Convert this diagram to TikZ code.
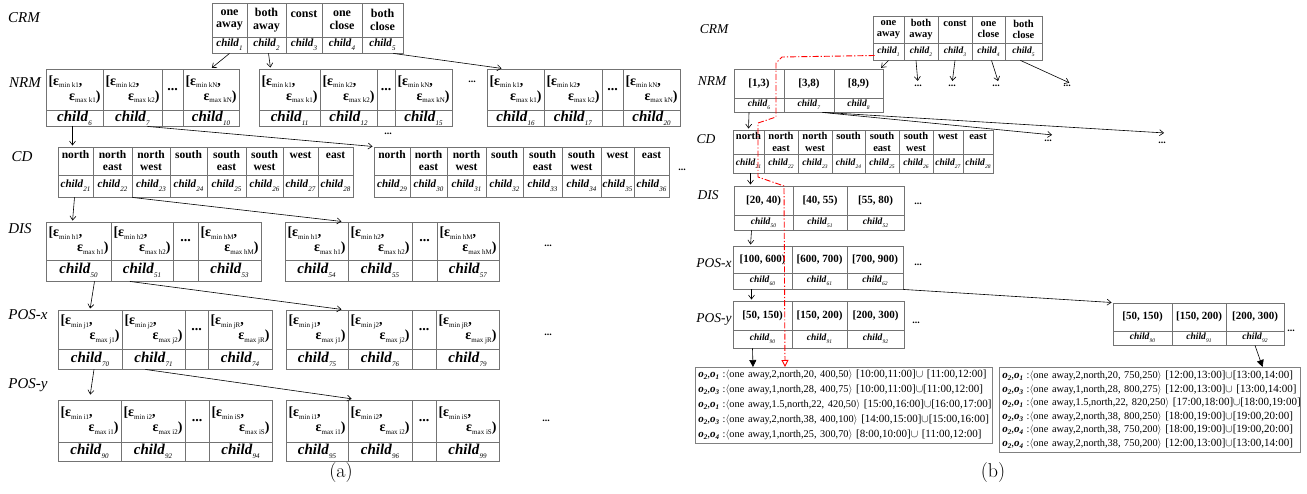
\documentclass[tikz,border=0pt]{standalone}
\usepackage{fontspec}
\newfontfamily\tnr{Liberation Serif}
\usetikzlibrary{arrows.meta}

% small lowered text for indices
\newcommand{\sub}[2][-2.5pt]{\raisebox{#1}{\fontsize{7}{7}\selectfont #2}}
\newcommand{\ch}[1]{\textbf{\textit{child}}\sub[-4pt]{\textit{#1}}}
\newcommand{\chs}[1]{\textbf{\textit{child}}\sub[-3pt]{\fontsize{5.5}{6}\selectfont\textit{#1}}}
\newcommand{\dd}{...}
\newcommand{\ee}[2]{\makebox[\cw pt][l]{[\textbf{ε}\sub{\mdseries #1},}\\
  \makebox[\cw pt][r]{\textbf{ε}\sub{\mdseries #2})}}
\newcommand{\oo}[2]{\textbf{\textit{o}}\sub[-2pt]{\textbf{\textit{#1}}},%
  \textbf{\textit{o}}\sub[-2pt]{\textbf{\textit{#2}}}}
\newcommand{\rl}[4]{\mbox{\oo{#1}{#2} {\fontsize{10.3}{10}\selectfont:$\langle$#3$\rangle$} #4}}
% fonts
\newcommand{\fwa}{\tnr\bfseries\fontsize{12}{12.5}\selectfont}
\newcommand{\fwc}{\tnr\bfseries\fontsize{11.5}{12}\selectfont}
\newcommand{\fea}{\tnr\bfseries\fontsize{14}{15}\selectfont}
\newcommand{\fca}{\tnr\fontsize{15}{15}\selectfont}
\newcommand{\fcs}{\tnr\fontsize{11}{11}\selectfont}
\newcommand{\fwb}{\tnr\bfseries\fontsize{10.5}{11.5}\selectfont}
\newcommand{\fhb}{\tnr\bfseries\fontsize{11}{11}\selectfont}
\newcommand{\fcb}{\tnr\fontsize{9.5}{9.5}\selectfont}

% table: name, top, middle, bottom, header font, child font, cells
\newcommand{\tabl}[7]{%
  \foreach \xl/\xr/\hd/\cd [count=\nc] in {#7}{%
    \pgfmathsetmacro{\cw}{\xr-\xl-5}%
    \node[cell, font=#5, minimum width=(\xr-\xl)*1pt, minimum height=(#3-#2)*1pt]
      (#1h\nc) at ({(\xl+\xr)/2},{(#2+#3)/2}) {\hd};
    \node[cell, font=#6, minimum width=(\xr-\xl)*1pt, minimum height=(#4-#3)*1pt]
      (#1c\nc) at ({(\xl+\xr)/2},{(#3+#4)/2}) {\cd};
  }}

\begin{document}
\begin{tikzpicture}[x=1pt,y=-1pt,
  cell/.style={draw=black!55,line width=0.9pt,inner sep=0pt,align=center},
  arr/.style={-{Straight Barb[length=4pt,width=6pt]},line width=0.6pt,shorten >=1pt},
  tri/.style={-{Triangle[length=7pt,width=7pt]},line width=0.6pt},
  redp/.style={red,line width=0.9pt,dash pattern=on 6pt off 2pt on 1.2pt off 2pt,
    -{Triangle[open,length=7pt,width=7pt]}},
  lbl/.style={font=\tnr\itshape\fontsize{15}{15}\selectfont},
  lblb/.style={font=\tnr\itshape\fontsize{13.5}{13.5}\selectfont},
  elide/.style={font=\tnr\bfseries\fontsize{10}{10}\selectfont,inner sep=1pt},
  res/.style={draw=black!50,line width=0.6pt,align=left,inner xsep=3pt,inner ysep=2pt,
    anchor=north west,font=\tnr\fontsize{11}{15}\selectfont}]
\useasboundingbox (0,0) rectangle (1307,494);

% ---------- (a) ----------
\node[lbl] (lcrma) at (24,18) {CRM};
\node[lbl] (lnrma) at (25,83) {NRM};
\node[lbl] (lcda) at (22,157) {CD};
\node[lbl] (ldisa) at (20,229) {DIS};
\node[lbl] (lpxa) at (28,315) {POS-x};
\node[lbl] (lpya) at (28,385) {POS-y};

\tabl{crma}{3}{37}{53}{\fwa}{\fcs}{212/247/{one\\away}/{\ch{1}},247/286/{both\\away}/{\ch{2}},
  286/322/{const\\\mbox{}}/{\ch{3}},322/362/{one\\close}/{\ch{4}},362/403/{both\\close}/{\ch{5}}}

\tabl{nrma1}{69}{110}{126}{\fea}{\fca}{46/103/{\ee{min k1}{max k1}}/{\ch{6}},
  103/162/{\ee{min k2}{max k2}}/{\ch{7}},162/183/{\dd}/{},183/239/{\ee{min kN}{max kN}}/{\ch{10}}}
\tabl{nrma2}{69}{110}{126}{\fea}{\fca}{259/320/{\ee{min k1}{max k1}}/{\ch{11}},
  320/377/{\ee{min k2}{max k2}}/{\ch{12}},377/395/{\dd}/{},395/452/{\ee{min kN}{max kN}}/{\ch{15}}}
\tabl{nrma3}{69}{110}{126}{\fea}{\fca}{487/544/{\ee{min k1}{max k1}}/{\ch{16}},
  544/602/{\ee{min k2}{max k2}}/{\ch{17}},602/623/{\dd}/{},623/680/{\ee{min kN}{max kN}}/{\ch{20}}}

\tabl{cda1}{147}{175}{197}{\fwc}{\fcs}{58/93/{north\\\mbox{}}/{\ch{21}},93/132/{north\\east}/{\ch{22}},
  132/170/{north\\west}/{\ch{23}},170/207/{south\\\mbox{}}/{\ch{24}},207/246/{south\\east}/{\ch{25}},
  246/283/{south\\west}/{\ch{26}},283/318/{west\\\mbox{}}/{\ch{27}},318/353/{east\\\mbox{}}/{\ch{28}}}
\tabl{cda2}{147}{175}{197}{\fwc}{\fcs}{374/410/{north\\\mbox{}}/{\ch{29}},410/447/{north\\east}/{\ch{30}},
  447/486/{north\\west}/{\ch{31}},486/523/{south\\\mbox{}}/{\ch{32}},523/562/{south\\east}/{\ch{33}},
  562/601/{south\\west}/{\ch{34}},601/634/{west\\\mbox{}}/{\ch{35}},634/669/{east\\\mbox{}}/{\ch{36}}}

\tabl{disa1}{222}{260}{281}{\fea}{\fca}{46/111/{\ee{min h1}{max h1}}/{\ch{50}},
  111/173/{\ee{min h2}{max h2}}/{\ch{51}},173/198/{\dd}/{},198/261/{\ee{min hM}{max hM}}/{\ch{53}}}
\tabl{disa2}{222}{260}{281}{\fea}{\fca}{285/348/{\ee{min h1}{max h1}}/{\ch{54}},
  348/412/{\ee{min h2}{max h2}}/{\ch{55}},412/437/{\dd}/{},437/499/{\ee{min hM}{max hM}}/{\ch{57}}}

\tabl{pxa1}{310}{349}{369}{\fea}{\fca}{58/122/{\ee{min j1}{max j1}}/{\ch{70}},
  122/185/{\ee{min j2}{max j2}}/{\ch{71}},185/208/{\dd}/{},208/272/{\ee{min jR}{max jR}}/{\ch{74}}}
\tabl{pxa2}{310}{349}{369}{\fea}{\fca}{286/348/{\ee{min j1}{max j1}}/{\ch{75}},
  348/412/{\ee{min j2}{max j2}}/{\ch{76}},412/436/{\dd}/{},436/499/{\ee{min jR}{max jR}}/{\ch{79}}}

\tabl{pya1}{400}{442}{461}{\fea}{\fca}{58/121/{\ee{min i1}{max i1}}/{\ch{90}},
  121/185/{\ee{min i2}{max i2}}/{\ch{92}},185/209/{\dd}/{},209/272/{\ee{min iS}{max iS}}/{\ch{94}}}
\tabl{pya2}{400}{442}{461}{\fea}{\fca}{286/348/{\ee{min i1}{max i1}}/{\ch{95}},
  348/412/{\ee{min i2}{max i2}}/{\ch{96}},412/436/{\dd}/{},436/499/{\ee{min iS}{max iS}}/{\ch{99}}}

\node[elide] (ea1) at (472,82) {\dd};
\node[elide] (ea2) at (388,134) {\dd};
\node[elide] (ea3) at (682,170) {\dd};
\node[elide] (ea4) at (548,246) {\dd};
\node[elide] (ea5) at (548,335) {\dd};
\node[elide] (ea6) at (546,421) {\dd};

\draw[arr] (crmac1.south) -- (nrma1h4.north);
\draw[arr] ([xshift=2pt]crmac2.south) -- ([xshift=12pt]nrma2h1.north west);
\draw[arr] ([xshift=-10pt]crmac5.south east) -- ([xshift=16pt]nrma3h1.north west);
\draw[arr] ([xshift=-2pt]nrma1c1.south) -- ([xshift=-3pt]cda1h1.north);
\draw[arr] ([xshift=15pt]nrma1c2.south) -- (cda2h1.north west);
\draw[arr] ([xshift=-1pt]cda1c1.south) -- ([xshift=-6pt]disa1h1.north);
\draw[arr] (cda1c2.south east) -- ([xshift=-6pt]disa2h1.north east);
\draw[arr] ([xshift=16pt]disa1c1.south) -- (pxa1h1.north);
\draw[arr] ([xshift=-12pt]disa1c2.south) -- ([xshift=-6pt]pxa2h1.north east);
\draw[arr,shorten >=5pt] ([xshift=4pt]pxa1c1.south) -- (pya1h1.north);
\draw[arr,shorten >=5pt] ([xshift=-8pt]pxa1c2.south) -- ([xshift=9pt]pya2h2.north west);

\node (capa) at (341,473) {\fontsize{20}{20}\selectfont(a)};

% ---------- (b) ----------
\node[lblb] (lcrmb) at (714,29) {CRM};
\node[lblb] (lnrmb) at (712,81) {NRM};
\node[lblb] (lcdb) at (706,139) {CD};
\node[lblb] (ldisb) at (708,195) {DIS};
\node[lblb] (lpxb) at (714,263) {POS-x};
\node[lblb] (lpyb) at (714,319) {POS-y};

\tabl{crmb}{16}{43}{60}{\fwb}{\fcb}{873/904/{one\\away}/{\chs{1}},904/938/{both\\away}/{\chs{2}},
  938/972/{const\\\mbox{}}/{\chs{3}},972/1005/{one\\close}/{\chs{4}},1005/1042/{both\\close}/{\chs{5}}}
\tabl{nrmb}{69}{98}{112}{\fhb}{\fcb}{734/784/{[1,3)}/{\chs{6}},784/834/{[3,8)}/{\chs{7}},
  834/883/{[8,9)}/{\chs{8}}}
\tabl{cdb}{130}{154}{173}{\fwb}{\fcb}{733/764/{north\\\mbox{}}/{\chs{21}},764/798/{north\\east}/{\chs{22}},
  798/832/{north\\west}/{\chs{23}},832/865/{south\\\mbox{}}/{\chs{24}},865/899/{south\\east}/{\chs{25}},
  899/933/{south\\west}/{\chs{26}},933/963/{west\\\mbox{}}/{\chs{27}},963/993/{east\\\mbox{}}/{\chs{28}}}
\tabl{disb}{186}{215}{230}{\fhb}{\fcb}{734/793/{[20, 40)}/{\chs{50}},793/847/{[40, 55)}/{\chs{51}},
  847/904/{[55, 80)}/{\chs{52}}}
\tabl{pxb}{246}{273}{289}{\fhb}{\fcb}{733/792/{[100, 600)}/{\chs{60}},792/847/{[600, 700)}/{\chs{61}},
  847/903/{[700, 900)}/{\chs{62}}}
\tabl{pyb}{301}{330}{348}{\fhb}{\fcb}{733/792/{[50, 150)}/{\chs{90}},792/847/{[150, 200)}/{\chs{91}},
  847/904/{[200, 300)}/{\chs{92}}}
\tabl{pyc}{303}{331}{345}{\fhb}{\fcb}{1113/1172/{[50, 150)}/{\chs{90}},1172/1226/{[150, 200)}/{\chs{91}},
  1226/1284/{[200, 300)}/{\chs{92}}}

\node[elide] (eb1) at (918,86) {\dd};
\node[elide] (eb2) at (952,86) {\dd};
\node[elide] (eb3) at (996,86) {\dd};
\node[elide] (eb4) at (1067,86) {\dd};
\node[elide] (eb5) at (1048,141) {\dd};
\node[elide] (eb6) at (1162,143) {\dd};
\node[elide] (eb7) at (918,204) {\dd};
\node[elide] (eb8) at (918,265) {\dd};
\node[elide] (eb9) at (916,323) {\dd};
\node[elide] (eb10) at (1291,331) {\dd};

\draw[arr] (crmbc1.south) -- ([xshift=-3pt]nrmbh3.north east);
\draw[arr,shorten >=3pt] ([xshift=-5pt]crmbc2.south) -- (eb1.north);
\draw[arr,shorten >=3pt] (crmbc3.south) -- (eb2.north);
\draw[arr,shorten >=3pt] ([xshift=3pt]crmbc4.south) -- ([xshift=3pt]eb3.north);
\draw[arr,shorten >=3pt] ([xshift=-3pt]crmbc5.south) -- ([xshift=5pt]eb4.north);
\draw[arr] ([xshift=-10pt]nrmbc1.south) -- (cdbh1.north);
\draw[arr] ([xshift=-12pt]nrmbc2.south east) -- ([xshift=5pt,yshift=4pt]eb5.north);
\draw[arr] ([xshift=-10pt]nrmbc2.south east) -- ([xshift=3pt,yshift=8pt]eb6.north);
\draw[arr] ([xshift=2pt]cdbc1.south) -- ([xshift=-13pt]disbh1.north);
\draw[arr] ([xshift=-12pt]disbc1.south) -- ([xshift=-12pt]pxbh1.north);
\draw[arr] ([xshift=-11pt]pxbc1.south) -- ([xshift=-11pt]pybh1.north);
\draw[arr] (pxbc3.south east) -- (pych1.north west);

\node[res,text width=291pt,minimum height=76pt] (resa) at (695,367) {%
\rl{2}{1}{one away,2,north,20, 400,50}{[10:00,11:00]$\cup$ [11:00,12:00]}\\
\rl{2}{3}{one away,1,north,28, 400,75}{[10:00,11:00]$\cup$[11:00,12:00]}\\
\rl{2}{1}{one away,1.5,north,22, 420,50}{[15:00,16:00]$\cup$[16:00,17:00]}\\
\rl{2}{3}{one away,2,north,38, 400,100}{[14:00,15:00]$\cup$[15:00,16:00]}\\
\rl{2}{4}{one away,1,north,25, 300,70}{[8:00,10:00]$\cup$ [11:00,12:00]}};
\node[res,text width=295pt,minimum height=85pt,font=\tnr\fontsize{11}{13.5}\selectfont]
  (resb) at (999,367) {%
\rl{2}{1}{one away,2,north,20, 750,250}{[12:00,13:00]$\cup$[13:00,14:00]}\\
\rl{2}{3}{one away,1,north,28, 800,275}{[12:00,13:00]$\cup$ [13:00,14:00]}\\
\rl{2}{1}{one away,1.5,north,22, 820,250}{[17:00,18:00]$\cup$[18:00,19:00]}\\
\rl{2}{3}{one away,2,north,38, 800,250}{[18:00,19:00]$\cup$[19:00,20:00]}\\
\rl{2}{4}{one away,2,north,38, 750,200}{[18:00,19:00]$\cup$[19:00,20:00]}\\
\rl{2}{4}{one away,2,north,38, 750,200}{[12:00,13:00]$\cup$[13:00,14:00]}};

\draw[tri] ([xshift=-10pt]pybc1.south) -- ([xshift=58pt]resa.north west);
\draw[tri] (pycc3.south) -- ([xshift=-38pt]resb.north east);
\draw[redp] ([xshift=2pt,yshift=-4pt]crmbc1.west) -- (782,57) -- (776,63) -- (776,117)
  -- (758,123) -- (758,177) -- (784,186) -- ([xshift=90pt]resa.north west);

\node (capb) at (993,473) {\fontsize{20}{20}\selectfont(b)};
\end{tikzpicture}
\end{document}
